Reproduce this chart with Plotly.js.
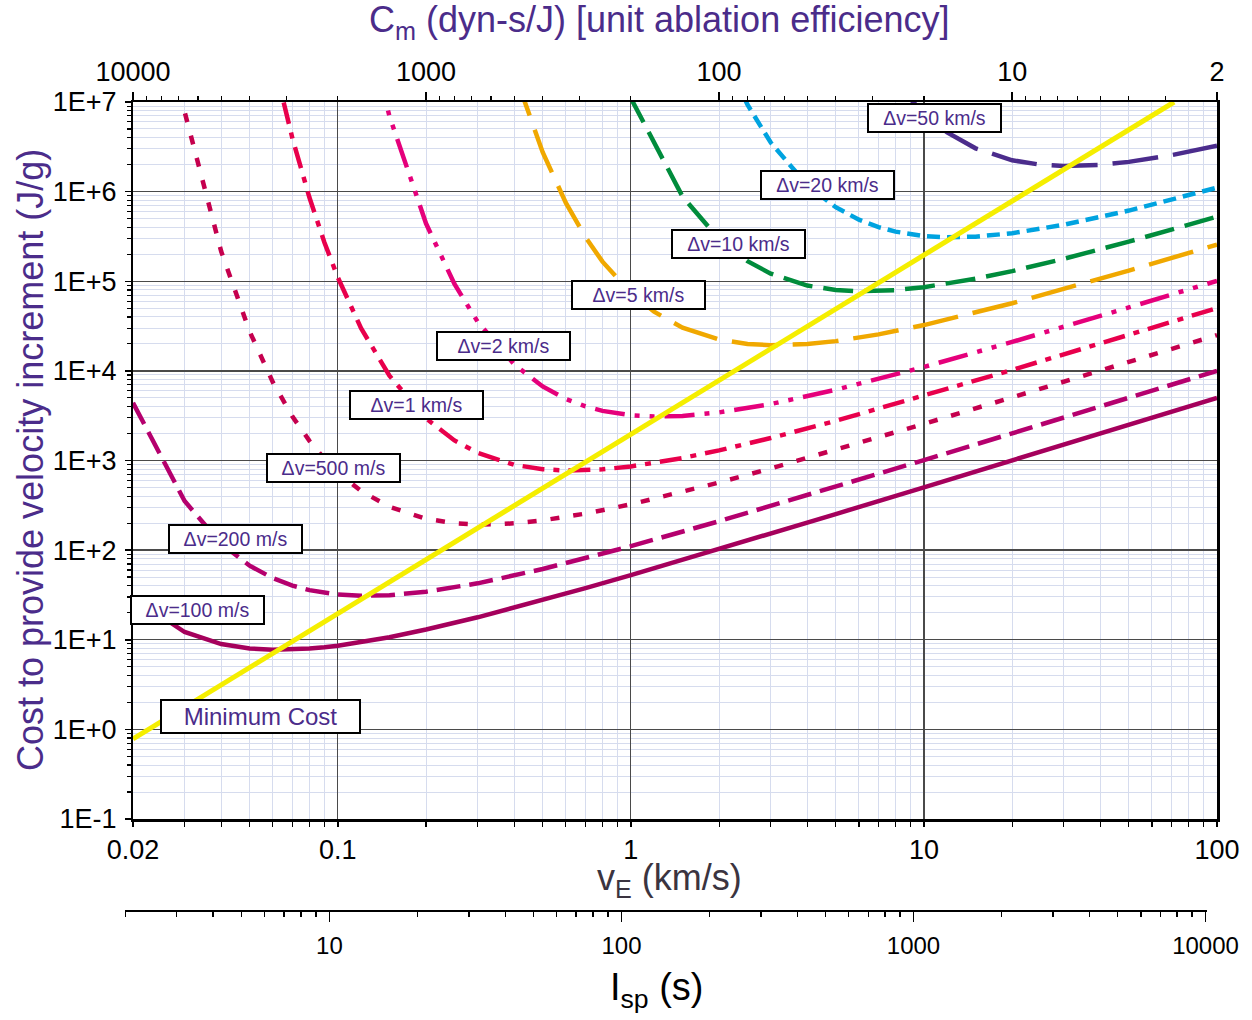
<!DOCTYPE html>
<html><head><meta charset="utf-8">
<script src="https://cdn.plot.ly/plotly-3.0.1.min.js"></script>
<style>html,body{margin:0;padding:0;background:#fff}</style>
</head><body><div id="chart" style="width:1252px;height:1020px"></div>
<script>
// ---------- data (vE in km/s, cost in J/g) ----------
const dv100_v  = [0.02,0.03,0.04,0.05,0.06,0.07,0.08,0.09,0.1,0.15,0.2,0.3,0.5,0.7,1,2,3,5,10,20,50,100];
const dv100_c  = [29.5,12.2,8.95,7.99,7.73,7.77,7.97,8.25,8.59,10.66,13.0,17.8,27.7,37.6,52.6,102.5,152.5,252.5,502.5,1002.5,2502.5,5002.5];

const dv200_v  = [0.02,0.03,0.04,0.05,0.06,0.07,0.08,0.09,0.1,0.12,0.15,0.2,0.3,0.5,0.7,1,2,3,5,10,20,50,100];
const dv200_c  = [4405,352.9,117.9,67.0,48.65,40.2,35.8,33.3,31.9,30.9,31.4,34.4,42.6,61.5,81.0,110.7,210.3,310.2,510.1,1010,2010,5010,10010];

const dv500_v  = [0.02,0.03,0.04,0.05,0.06,0.07,0.08,0.09,0.1,0.12,0.15,0.2,0.25,0.3,0.35,0.4,0.5,0.7,1,2,3,5,10,20,50,100];
const dv500_c  = [1.44e10,7.79e6,2.147e5,27532,7487,3097,1654,1044,737,457,304,223.6,199.7,193.2,194.3,199.2,214.8,255.5,324.4,568,816,1314.6,2563.5,5063,12563,25063];

const dv1k_v   = [0.06,0.07,0.08,0.09,0.1,0.12,0.15,0.2,0.25,0.3,0.4,0.5,0.6,0.7,0.8,1,1.5,2,3,5,10,20,50,100];
const dv1k_c   = [3.115e7,3.922e6,8.587e5,2.71e5,110127,29945,8822,2948,1675,1216,894.6,798.6,773,777,797,859,1066,1297,1780,2768,5259,10254,25252,50251];

const dv2k_v   = [0.12,0.15,0.2,0.25,0.3,0.4,0.5,0.6,0.7,0.8,1,1.2,1.5,2,3,5,10,20,50,100];
const dv2k_c   = [1.246e8,6.946e6,440500,93125,35289,11793,6700,4865,4020,3578,3195,3092,3143,3437,4265,6148,11070,21034,51014,101007];

const dv5k_v   = [0.4,0.5,0.6,0.7,0.8,1,1.2,1.5,2,2.5,3,3.5,4,5,7,10,20,50,100];
const dv5k_c   = [2.147e7,2.753e6,748620,309700,165440,73705,45720,30409,22365,19966,19323,19435,19922,21479,25549,32436,56805,131464,256355];

const dv10k_v  = [0.8,1,1.5,2,2.5,3,4,5,6,7,8,10,15,20,30,50,100];
const dv10k_c  = [8.59e7,1.101e7,882225,294826,167494,121635,89460,79864,77292,77739,79690,85914,106616,129744,178020,276753,525855];

const dv20k_v  = [2,2.5,3,4,5,6,7,8,10,12,15,20,30,50,100];
const dv20k_c  = [4.405e7,9.313e6,3.529e6,1.179e6,669975,486540,402045,357830,319453,309175,314291,343656,426465,614780,1.107e6];

const dv50k_v  = [8,10,12,15,20,25,30,35,40,50,70,100];
const dv50k_c  = [1.654e7,7.37e6,4.572e6,3.041e6,2.2365e6,1.9966e6,1.932e6,1.9435e6,1.992e6,2.148e6,2.555e6,3.244e6];

const minCost_v = [0.02, 71.4];
const minCost_c = [0.784, 1.0e7];

const curveNames = ['Δv=100 m/s','Δv=200 m/s','Δv=500 m/s','Δv=1 km/s','Δv=2 km/s','Δv=5 km/s','Δv=10 km/s','Δv=20 km/s','Δv=50 km/s','Minimum Cost'];

// ---------- tick labels ----------
const xMajorVals = [0.02,0.1,1,10,100];
const xMajorText = ['0.02','0.1','1','10','100'];
const xMinorVals = [0.03,0.04,0.05,0.06,0.07,0.08,0.09,0.2,0.3,0.4,0.5,0.6,0.7,0.8,0.9,2,3,4,5,6,7,8,9,20,30,40,50,60,70,80,90];
const yMajorVals = [0.1,1,10,100,1e3,1e4,1e5,1e6,1e7];
const yMajorText = ['1E-1','1E+0','1E+1','1E+2','1E+3','1E+4','1E+5','1E+6','1E+7'];
const yMinorVals = [];
for (let d=-1; d<7; d++) for (let k=2;k<=9;k++) yMinorVals.push(k*Math.pow(10,d));
const cmMajor = [10000,1000,100,10,2];
const cmMajorText = ['10000','1000','100','10','2'];
const cmMinor = [9000,8000,7000,6000,5000,4000,3000,2000,900,800,700,600,500,400,300,200,90,80,70,60,50,40,30,20,9,8,7,6,5,4,3];
const ispMajor = [10,100,1000,10000];
const ispMajorText = ['10','100','1000','10000'];
const ispMinor = [2,3,4,5,6,7,8,9,20,30,40,50,60,70,80,90,200,300,400,500,600,700,800,900,2000,3000,4000,5000,6000,7000,8000,9000];

// Cm (dyn-s/J) = 200 / vE (km/s)
const cmToVe = c => 200 / c;

const FONT = 'Liberation Sans, Arial, Helvetica, sans-serif';
const PURPLE = '#4B2C8A';

function line(x, y, color, dash, width) {
  return {x, y, type:'scatter', mode:'lines', xaxis:'x', yaxis:'y', hoverinfo:'skip',
          line:{color, dash, width: width||4.5, shape:'linear'}, showlegend:false};
}
// invisible anchor traces so that the extra (tick / grid) axes get drawn
function anchor(xa, ya, x, y) {
  return {x:[x], y:[y], type:'scatter', mode:'markers', xaxis:xa, yaxis:ya,
          marker:{size:1, opacity:0}, hoverinfo:'skip', showlegend:false};
}

const traces = [
  anchor('x2','y',1,1), anchor('x3','y',1,1), anchor('x4','y',1,1), anchor('x','y2',1,1),
  anchor('x5','y3',100,0.5), anchor('x6','y3',100,0.5),
  line(dv100_v, dv100_c, '#A5005C', 'solid'),
  line(dv200_v, dv200_c, '#B5006E', '24px,9px'),
  line(dv500_v, dv500_c, '#C5004E', '9px,14px'),
  line(dv1k_v,  dv1k_c,  '#E8004C', '22px,9px,6px,9px'),
  line(dv2k_v,  dv2k_c,  '#E5007B', '30px,10px,5px,10px,5px,10px'),
  line(dv5k_v,  dv5k_c,  '#F0A800', '46px,15px'),
  line(dv10k_v, dv10k_c, '#008C3C', '30px,11px'),
  line(dv20k_v, dv20k_c, '#00A3E0', '13px,7px'),
  line(dv50k_v, dv50k_c, '#4B2C8C', '46px,15px'),
  line(minCost_v, minCost_c, '#F5EE00', 'solid', 5)
];

const xr = [Math.log10(0.02), 2];
const yr = [-1, 7];
const MINOR_GRID = '#D6DCEE';
const MAJOR_GRID = '#4a4a4a';

const layout = {
  width:1252, height:1020,
  margin:{l:125, r:35, t:102, b:110, pad:0},
  paper_bgcolor:'#ffffff', plot_bgcolor:'#ffffff',
  showlegend:false,
  font:{family:FONT, size:22, color:'#000'},
  xaxis:{type:'log', domain:[8/1092,1], range:xr, anchor:'y',
         tickmode:'array', tickvals:xMinorVals, ticktext:xMinorVals.map(()=>''),
         showticklabels:false, ticks:'outside', ticklen:5, tickwidth:1.2, tickcolor:'#000',
         showgrid:true, gridcolor:MINOR_GRID, gridwidth:1,
         showline:true, linecolor:'#000', linewidth:2.5, mirror:true, zeroline:false},
  xaxis2:{type:'log', overlaying:'x', range:xr, anchor:'y', side:'bottom',
         tickmode:'array', tickvals:xMajorVals, ticktext:xMajorText,
         ticks:'outside', ticklen:7, tickwidth:1.5, tickcolor:'#000',
         showgrid:true, gridcolor:MAJOR_GRID, gridwidth:1.2,
         showline:false, zeroline:false, tickfont:{size:27, family:FONT}, ticklabelstandoff:0},
  xaxis3:{type:'log', overlaying:'x', range:xr, anchor:'y', side:'top',
         tickmode:'array', tickvals:cmMajor.map(cmToVe), ticktext:cmMajorText,
         ticks:'outside', ticklen:9, tickwidth:1.5, tickcolor:'#000',
         showgrid:false, showline:false, zeroline:false, tickfont:{size:27, family:FONT}, ticklabelstandoff:0},
  xaxis4:{type:'log', overlaying:'x', range:xr, anchor:'y', side:'top',
         tickmode:'array', tickvals:cmMinor.map(cmToVe), ticktext:cmMinor.map(()=>''),
         showticklabels:false, ticks:'outside', ticklen:5, tickwidth:1.2, tickcolor:'#000',
         showgrid:false, showline:false, zeroline:false},
  yaxis:{type:'log', domain:[91/808,1], range:yr, anchor:'x',
         tickmode:'array', tickvals:yMinorVals, ticktext:yMinorVals.map(()=>''),
         showticklabels:false, ticks:'outside', ticklen:4, tickwidth:1.2, tickcolor:'#000',
         showgrid:true, gridcolor:MINOR_GRID, gridwidth:1,
         showline:true, linecolor:'#000', linewidth:2.5, mirror:true, zeroline:false},
  yaxis2:{type:'log', overlaying:'y', range:yr, anchor:'x', side:'left',
         tickmode:'array', tickvals:yMajorVals, ticktext:yMajorText,
         ticks:'outside', ticklen:7, tickwidth:1.5, tickcolor:'#000',
         showgrid:true, gridcolor:MAJOR_GRID, gridwidth:1.3,
         showline:false, zeroline:false, tickfont:{size:27, family:FONT}, ticklabelstandoff:3},
  xaxis5:{type:'log', domain:[0, 1082/1092], range:[0.300, 4.005], anchor:'y3', side:'bottom',
         tickmode:'array', tickvals:ispMajor, ticktext:ispMajorText,
         ticks:'outside', ticklen:10, tickwidth:1.5, tickcolor:'#000',
         showgrid:false, showline:true, linecolor:'#000', linewidth:2, zeroline:false,
         tickfont:{size:24, family:FONT}, ticklabelstandoff:3},
  xaxis6:{type:'log', overlaying:'x5', range:[0.300, 4.005], anchor:'y3', side:'bottom',
         tickmode:'array', tickvals:ispMinor, ticktext:ispMinor.map(()=>''),
         showticklabels:false, ticks:'outside', ticklen:6, tickwidth:1.5, tickcolor:'#000',
         showgrid:false, showline:false, zeroline:false},
  yaxis3:{domain:[0, 0.005], range:[0,1], anchor:'x5', visible:false, showgrid:false, zeroline:false},
  annotations:[]
};

const titles = [
  {text:'C<sub>m</sub> (dyn-s/J) [unit ablation efficiency]', x:0.4899, y:1.099, size:36, color:PURPLE},
  {text:'Cost to provide velocity increment (J/g)', x:-0.087, y:0.5569, size:36, color:PURPLE, angle:-90},
  {text:'v<sub>E</sub> (km/s)', x:0.4982, y:0.0371, size:36, color:'#3B3440'},
  {text:'I<sub>sp</sub> (s)', x:0.4872, y:-0.099, size:38, color:'#000'}
];
titles.forEach(t => layout.annotations.push({
  xref:'paper', yref:'paper', x:t.x, y:t.y, xanchor:'center', yanchor:'middle',
  text:t.text, showarrow:false, textangle:t.angle||0, font:{family:FONT, size:t.size, color:t.color}
}));

const labelPos = [
  [0.0668,0.3707],[0.1016,0.4592],[0.1908,0.5470],[0.2669,0.6256],[0.3466,0.6980],
  [0.4698,0.7611],[0.5614,0.8243],[0.6433,0.8967],[0.7413,0.9808],[0.1241,0.2397]
];
curveNames.forEach((n,i) => {
  const isMin = (i === curveNames.length-1);
  layout.annotations.push({
    xref:'paper', yref:'paper', x:labelPos[i][0], y:labelPos[i][1],
    xanchor:'center', yanchor:'middle', text:n, showarrow:false,
    font:{family:FONT, size:isMin?24:19.5, color:PURPLE},
    bgcolor:'#ffffff', bordercolor:'#000', borderwidth:2, borderpad:2,
    width:isMin?193:127, height:isMin?27:22, align:'center'
  });
});

Plotly.newPlot('chart', traces, layout, {displayModeBar:false, staticPlot:true});
</script></body></html>
